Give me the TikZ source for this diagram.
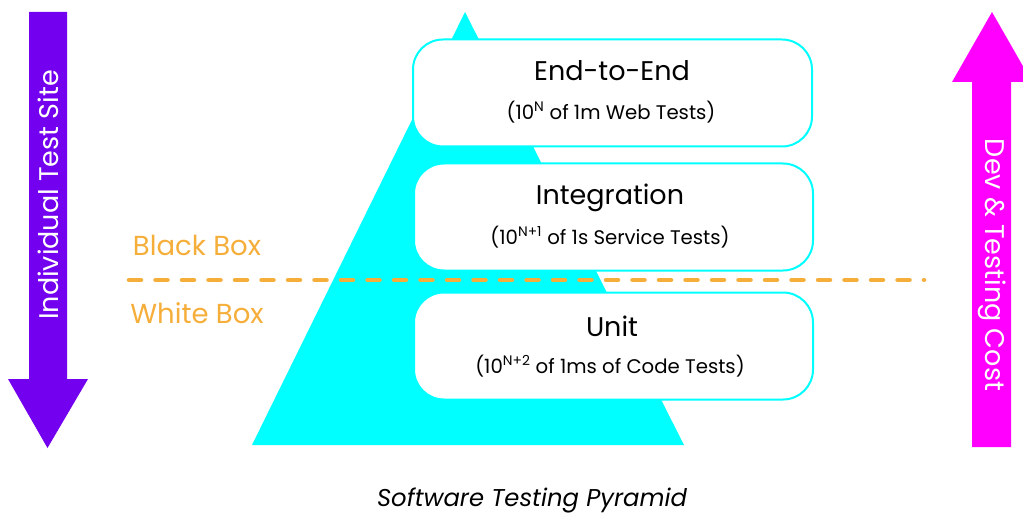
\documentclass[tikz,border=0pt]{standalone}
\usepackage{fontspec}
\setmainfont{Poppins}
\definecolor{pyr}{RGB}{0,255,255}
\definecolor{purp}{RGB}{115,0,238}
\definecolor{mag}{RGB}{255,0,255}
\definecolor{orng}{RGB}{246,174,58}
\begin{document}
\begin{tikzpicture}[x=1pt,y=-1pt,
  layer/.style={draw=pyr,line width=2pt,fill=white,rounded corners=30pt,minimum width=399pt,minimum height=107pt,inner sep=0pt},
  ttl/.style={font=\fontsize{27}{30}\selectfont,text=black,inner sep=0pt},
  sub/.style={font=\fontsize{19.7}{21}\selectfont,text=black,inner sep=0pt},
  side/.style={font=\fontsize{27}{29}\selectfont,text=white,inner sep=0pt},
  boxlbl/.style={font=\fontsize{27.5}{29}\selectfont,text=orng,inner sep=0pt},
  divider/.style={draw=orng,line width=4.5pt,line cap=round,dash pattern=on 12pt off 14.5pt}
]
\useasboundingbox (0,0) rectangle (1023,516);
\clip (0,0) rectangle (1023,516);
% pyramid
\fill[pyr] (252,445) -- (465,12) -- (684,445) -- cycle;
% left arrow
\fill[purp] (29,12) -- (67,12) -- (67,379) -- (88,379) -- (47.5,448) -- (8,379) -- (29,379) -- cycle;
\node[side,rotate=90] (lt) at (48,195) {Individual Test Site};
% right arrow
\fill[mag] (972,447) -- (1011,447) -- (1011,82) -- (1032,82) -- (992,12) -- (952,82) -- (972,82) -- cycle;
\node[side,rotate=-90] (rt) at (992,265) {Dev \& Testing Cost};
% layers
\node[layer] (l1) at (612.5,93) {};
\node[layer] (l2) at (613.5,217) {};
\node[layer] (l3) at (613.5,346) {};
% divider
\coordinate (dl) at (129,280);
\coordinate (dr) at (924,280);
\draw[divider] (dl) -- (dr);
% texts
\node[ttl] (t1) at (612,71) {End-to-End};
\node[sub] (s1) at (611,112) {(10\textsuperscript{N} of 1m Web Tests)};
\node[ttl] (t2) at (610,198) {Integration};
\node[sub] (s2) at (610,237) {(10\textsuperscript{N+1} of 1s Service Tests)};
\node[ttl] (t3) at (612,326) {Unit};
\node[sub] (s3) at (610,366) {(10\textsuperscript{N+2} of 1ms of Code Tests)};
\node[boxlbl] (bb) at (197,245) {Black Box};
\node[boxlbl] (wb) at (197,313) {White Box};
\node[font=\fontsize{24.3}{26}\selectfont\itshape,inner sep=0pt] (cap) at (532,500) {Software Testing Pyramid};
\end{tikzpicture}
\end{document}
